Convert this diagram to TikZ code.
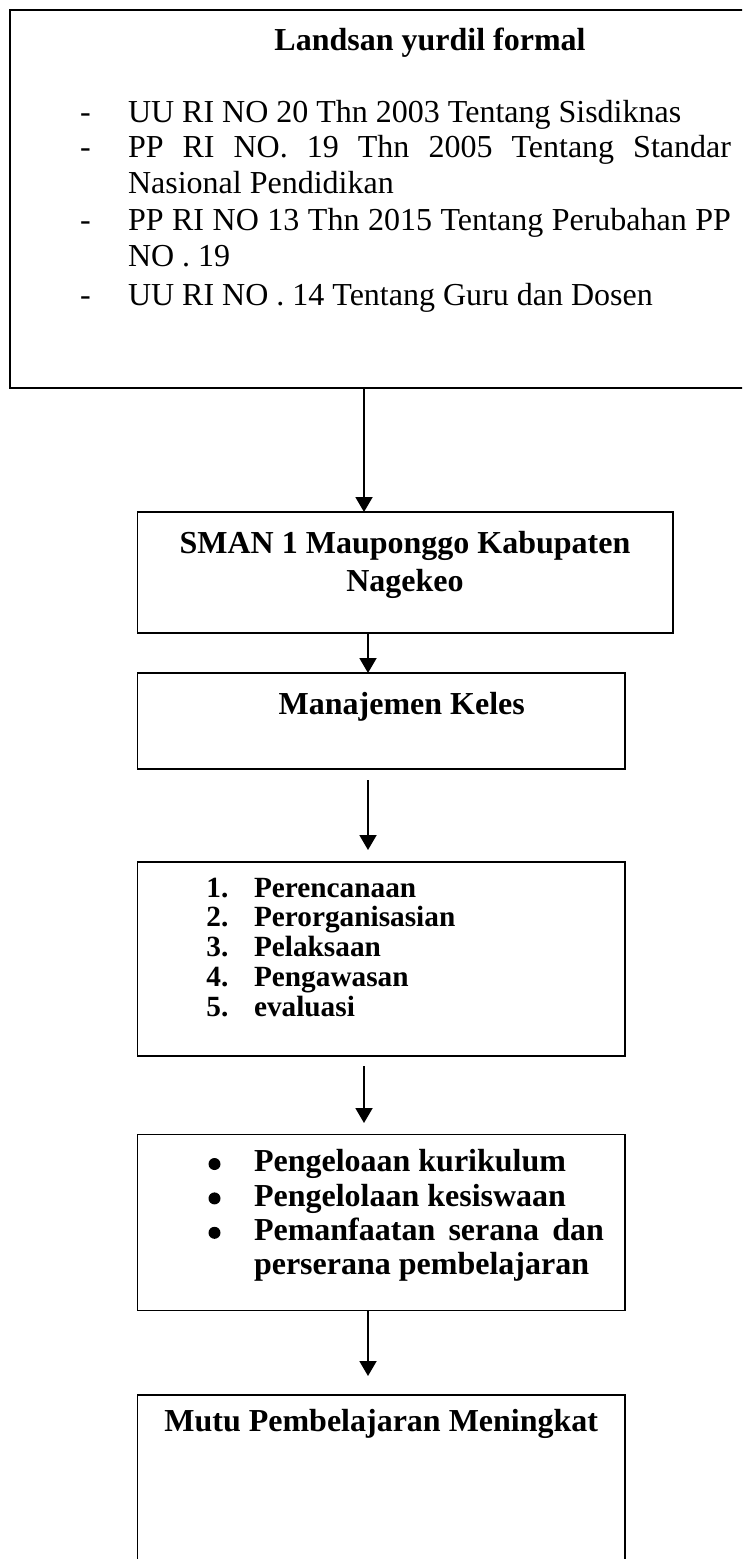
\documentclass[tikz,border=0pt]{standalone}
\usepackage{fontspec}
\setmainfont{Liberation Serif}
\usetikzlibrary{arrows.meta}
\begin{document}
\begin{tikzpicture}[x=1pt,y=-1pt,
  box/.style={draw, line width=1.8pt, rectangle, inner sep=0pt, outer sep=0pt},
  arr/.style={line width=1.9pt, -{Triangle[length=15pt,width=17pt]}},
  txt/.style={inner sep=0pt, outer sep=0pt, anchor=base west},
  rm/.style={font=\fontsize{32}{36.6}\selectfont},
  bf/.style={font=\fontsize{32}{38}\selectfont\bfseries},
  bfb/.style={font=\fontsize{32}{34.2}\selectfont\bfseries},
  bfs/.style={font=\fontsize{29.3}{29.75}\selectfont\bfseries},
  dot/.style={circle, fill, inner sep=0pt, outer sep=0pt, minimum size=12pt}
]
\useasboundingbox (0,0) rectangle (742,1559);
\clip (0,0) rectangle (742,1559);

% boxes
\node[box, minimum width=734pt, minimum height=378pt] (top) at (377,199) {};
\node[box, minimum width=535.5pt, minimum height=121pt] (sman) at (405.25,572.5) {};
\node[box, minimum width=487.5pt, minimum height=96pt] (mk) at (381.25,721) {};
\node[box, minimum width=487.5pt, minimum height=194pt] (list) at (381.25,959) {};
\node[box, minimum width=487.5pt, minimum height=176pt] (bul) at (381.25,1222.5) {};
\node[box, minimum width=487.5pt, minimum height=190pt] (last) at (381.25,1490) {};

% top box text
\node[txt, bf, anchor=base] (title) at (430,50) {Landsan yurdil formal};
\node[txt, rm] (d1) at (80,122) {-};
\node[txt, rm] (d2) at (80,157) {-};
\node[txt, rm] (d3) at (80,230) {-};
\node[txt, rm] (d4) at (80,305) {-};
\node[txt, rm] (i1) at (128,122) {UU RI NO 20 Thn 2003 Tentang Sisdiknas};
\node[txt, rm] (i2) at (128,157) {\parbox[t]{603pt}{\hbox to 603pt{PP RI NO. 19 Thn 2005 Tentang Standar}\hbox{Nasional Pendidikan}}};
\node[txt, rm] (i3) at (128,230) {\parbox[t]{603pt}{\hbox to 603pt{PP RI NO 13 Thn 2015 Tentang Perubahan PP}\hbox{NO . 19}}};
\node[txt, rm] (i4) at (128,305) {UU RI NO . 14 Tentang Guru dan Dosen};

% SMAN
\node[txt, bf, anchor=base] (s1) at (405,553) {SMAN 1 Mauponggo Kabupaten};
\node[txt, bf, anchor=base] (s2) at (405,591) {Nagekeo};

% Manajemen
\node[txt, bf] (mkt) at (278.7,714) {Manajemen Keles};

% numbered list
\node[txt, bfs] (n1) at (206.4,897) {1.};
\node[txt, bfs] (n2) at (206.4,926.75) {2.};
\node[txt, bfs] (n3) at (206.4,956.5) {3.};
\node[txt, bfs] (n4) at (206.4,986.25) {4.};
\node[txt, bfs] (n5) at (206.4,1016) {5.};
\node[txt, bfs] (t1) at (254,897) {Perencanaan};
\node[txt, bfs] (t2) at (254,926.75) {Perorganisasian};
\node[txt, bfs] (t3) at (254,956.5) {Pelaksaan};
\node[txt, bfs] (t4) at (254,986.25) {Pengawasan};
\node[txt, bfs] (t5) at (254,1016) {evaluasi};

% bullet list
\node[dot] (b1) at (214.5,1164) {};
\node[dot] (b2) at (214.5,1198.4) {};
\node[dot] (b3) at (214.5,1232.8) {};
\node[txt, bfb] (u1) at (254,1171.6) {Pengeloaan kurikulum};
\node[txt, bfb] (u2) at (254,1206) {Pengelolaan kesiswaan};
\node[txt, bfb] (u3) at (254,1240.4) {\parbox[t]{350pt}{\hbox to 350pt{Pemanfaatan serana dan}\hbox{perserana pembelajaran}}};

% last
\node[txt, bf, anchor=base] (mutu) at (381.25,1431) {Mutu Pembelajaran Meningkat};

% arrows
\coordinate (xa) at (364,0);
\coordinate (xb) at (368,0);
\draw[arr] (top.south -| xa) -- (sman.north -| xa);
\draw[arr] (sman.south -| xb) -- (mk.north -| xb);
\draw[arr, shorten <=11pt, shorten >=12pt] (mk.south -| xb) -- (list.north -| xb);
\draw[arr, shorten <=10pt, shorten >=11.5pt] (list.south -| xa) -- (bul.north -| xa);
\draw[arr, shorten >=19pt] (bul.south -| xb) -- (last.north -| xb);
\end{tikzpicture}
\end{document}
